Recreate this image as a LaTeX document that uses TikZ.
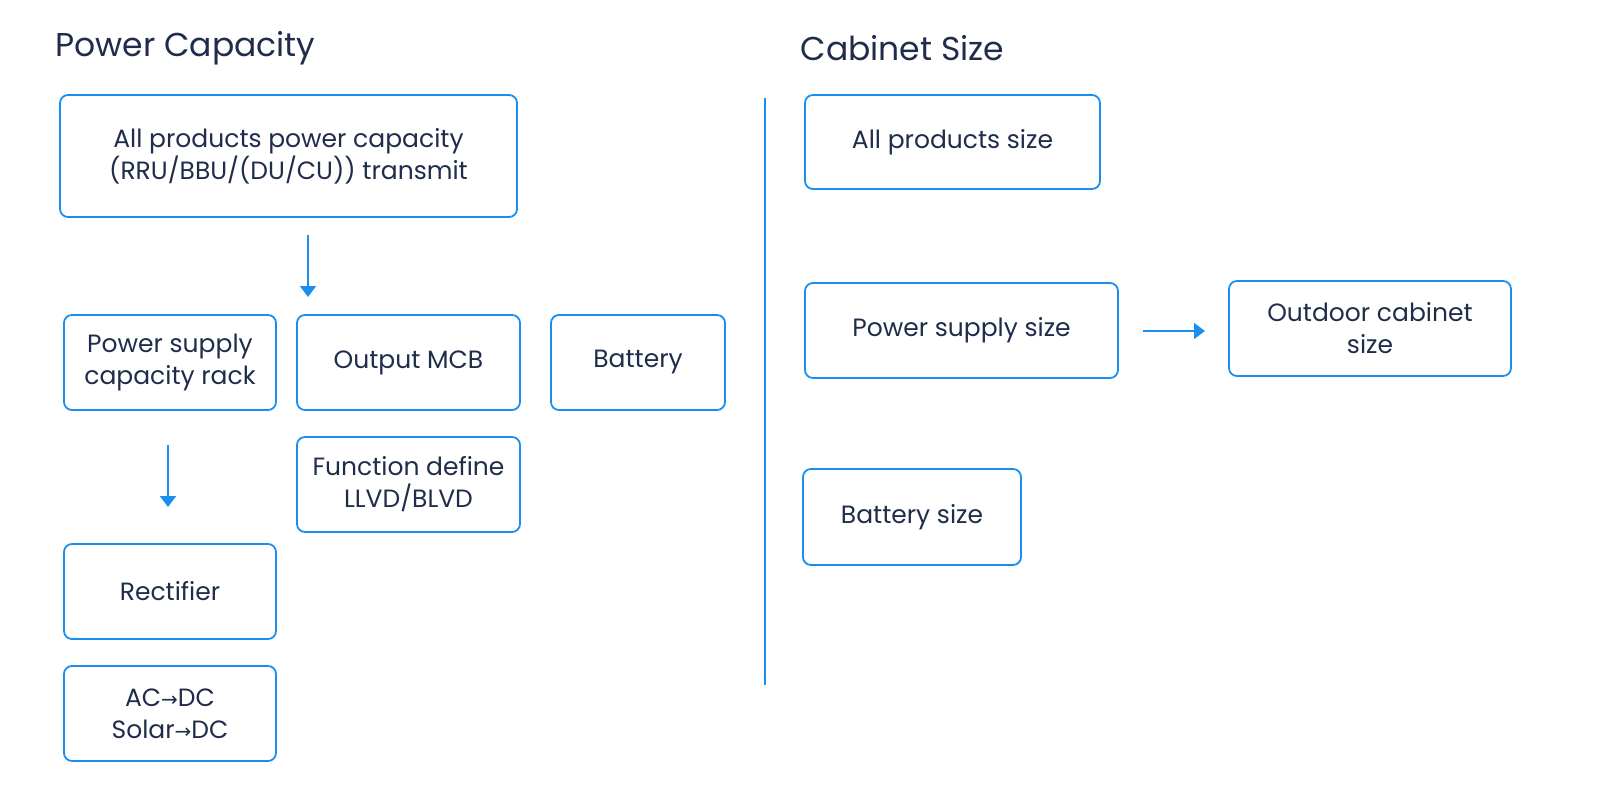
\documentclass[tikz,border=0pt]{standalone}
\usepackage{fontspec}
\setmainfont{Poppins}
\newfontfamily\symf{DejaVu Sans}
\usetikzlibrary{arrows.meta}
\definecolor{bl}{HTML}{1A8FF0}
\definecolor{tx}{HTML}{1F2D4A}
\begin{document}
\begin{tikzpicture}[x=1pt,y=-1pt,
 box/.style={draw=bl,line width=1.8pt,rounded corners=8pt,text=tx,align=center,font=\fontsize{25}{32}\selectfont},
 arr/.style={draw=bl,line width=1.8pt,-{Triangle[length=11pt,width=16pt]}},
 ttl/.style={text=tx,anchor=west,font=\fontsize{33}{38}\selectfont}]
\useasboundingbox (0,0) rectangle (1600,801);
\node[ttl] (t1) at (52,48) {Power Capacity};
\node[ttl] (t2) at (797,48) {Cabinet Size};
\newcommand\bx[6]{\draw[box] (#2,#3) rectangle (#4,#5) node[midway,text=tx] (#1) {#6};}
\bx{a}{60}{95}{517}{217}{All products power capacity\\(RRU/BBU/(DU/CU)) transmit}
\bx{b}{64}{315}{276}{410}{Power supply\\capacity rack}
\bx{c}{297}{315}{520}{410}{Output MCB}
\bx{d}{551}{315}{725}{410}{Battery}
\bx{e}{297}{437}{520}{532}{Function define\\LLVD/BLVD}
\bx{f}{64}{544}{276}{639}{Rectifier}
\bx{g}{64}{666}{276}{761}{AC{\symf\fontsize{20}{22}\selectfont→}DC\\Solar{\symf\fontsize{20}{22}\selectfont→}DC}
\bx{h}{805}{95}{1100}{189}{All products size}
\bx{i}{805}{283}{1118}{378}{Power supply size}
\bx{j}{1229}{281}{1511}{376}{Outdoor cabinet\\size}
\bx{k}{803}{469}{1021}{565}{Battery size}
\coordinate (a1) at (308,235); \coordinate (a2) at (308,297);
\coordinate (b1) at (168,445); \coordinate (b2) at (168,507);
\coordinate (c1) at (1143,331); \coordinate (c2) at (1205,331);
\draw[arr] (a1) -- (a2);
\draw[arr] (b1) -- (b2);
\draw[arr] (c1) -- (c2);
\coordinate (v1) at (765,98); \coordinate (v2) at (765,685);
\draw[bl,line width=1.8pt] (v1) -- (v2);
\end{tikzpicture}
\end{document}
